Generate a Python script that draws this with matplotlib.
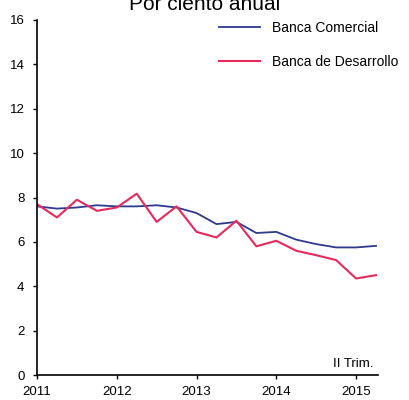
import matplotlib
matplotlib.use("Agg")
import matplotlib.pyplot as plt

plt.rcParams['font.family'] = ['Liberation Sans', 'DejaVu Sans']

quarters = list(range(18))  # 2011 Q1 .. 2015 Q2
year_labels = ["2011", "2012", "2013", "2014", "2015"]
year_ticks = [0, 4, 8, 12, 16]
banca_comercial = [7.6, 7.5, 7.55, 7.65, 7.6, 7.6, 7.65, 7.55, 7.3, 6.8,
                   6.9, 6.4, 6.45, 6.1, 5.9, 5.75, 5.75, 5.82]
banca_desarrollo = [7.7, 7.1, 7.9, 7.4, 7.55, 8.17, 6.9, 7.6, 6.45, 6.2,
                    6.95, 5.8, 6.05, 5.6, 5.4, 5.18, 4.35, 4.5]

fig = plt.figure(figsize=(4.1, 4.0), dpi=100)
ax = fig.add_axes([37/410, 25/400, (378-37)/410, (375-20)/400])

ax.plot(quarters, banca_comercial, color='#2e3a8c', lw=1.3, label='Banca Comercial')
ax.plot(quarters, banca_desarrollo, color='#e62a5c', lw=1.5, label='Banca de Desarrollo')

ax.set_xlim(0, 17.1)
ax.set_ylim(0, 16)
ax.set_yticks(range(0, 17, 2))
ax.set_xticks(year_ticks)
ax.set_xticklabels(year_labels)
for s in ['top', 'right']:
    ax.spines[s].set_visible(False)
for s in ['left', 'bottom']:
    ax.spines[s].set_linewidth(1.2)
ax.tick_params(axis='both', labelsize=9.5, length=3, width=1, direction='out')
ax.tick_params(axis='x', pad=5)
ax.tick_params(axis='y', pad=6)

ax.text(0.985, 0.015, 'II Trim.', transform=ax.transAxes, ha='right', va='bottom', fontsize=9.5)

ax.legend(loc='upper right', bbox_to_anchor=(411/410, 1 - 8/400), bbox_transform=fig.transFigure,
          frameon=False, fontsize=10, handlelength=3.0, labelspacing=1.45, handletextpad=0.85)

fig.text(0.5, 1 - 10/400, 'Por ciento anual', ha='center', va='baseline', fontsize=15)

fig.savefig('out.png', dpi=100)
